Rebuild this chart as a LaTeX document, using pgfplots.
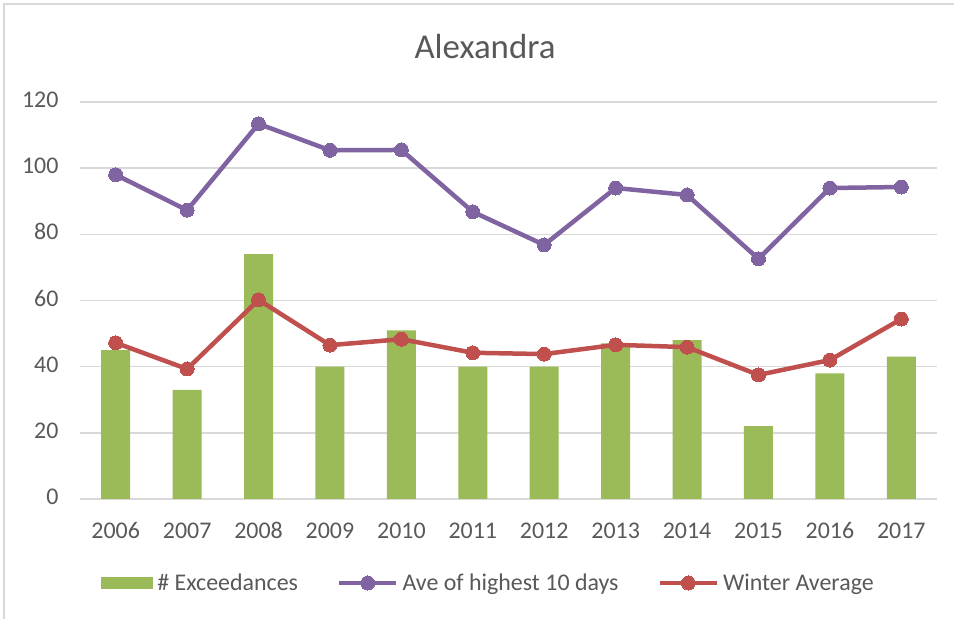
\documentclass[border=0pt]{standalone}
\usepackage{pgfplots}
\pgfplotsset{compat=1.18}
\usepackage{fontspec}
\setmainfont{Carlito}
\definecolor{txt}{HTML}{595959}
\definecolor{gridc}{HTML}{D9D9D9}
\definecolor{barg}{HTML}{9BBB59}
\definecolor{purp}{HTML}{8064A2}
\definecolor{redc}{HTML}{C0504D}
\begin{document}
\begin{tikzpicture}[x=1bp,y=1bp]
\useasboundingbox (0,0) rectangle (954,619);
\fill[white] (0,0) rectangle (954,619);
\draw[gridc, line width=2bp] (4,0) -- (4,615) -- (954,615);
\node[txt, font=\fontsize{35}{40}\selectfont, anchor=base] at (485,560) {Alexandra};
\begin{axis}[
  at={(80bp,120bp)}, anchor=south west,
  scale only axis, width=857bp, height=397bp,
  xmin=-0.5, xmax=11.5, ymin=0, ymax=120,
  ytick={0,20,...,120},
  xtick={0,...,11},
  xticklabels={2006,2007,2008,2009,2010,2011,2012,2013,2014,2015,2016,2017},
  axis line style={draw=none},
  axis x line*=bottom,
  major tick length=0pt,
  ymajorgrids, grid style={gridc, line width=1.5bp},
  tick label style={txt, font=\fontsize{24}{28}\selectfont},
  typeset ticklabels with strut,
  /pgf/number format/assume math mode=true,
  yticklabel style={xshift=-18bp},
  xticklabel style={yshift=-16.5bp},
  legend style={at={(0.4767,-0.2116)}, anchor=center, draw=none, fill=none,
    font=\fontsize{24}{28}\selectfont, text=txt, legend columns=3,
    nodes={inner xsep=2bp, inner ysep=2bp},
    /tikz/every odd column/.append style={column sep=2bp},
    /tikz/every even column/.append style={column sep=37bp}},
  legend image code/.code={\draw[#1, mark repeat=2, mark phase=2] plot coordinates {(0bp,0bp) (28.5bp,0bp) (57bp,0bp)};},
]
\addplot[ybar, bar width=29bp, fill=barg, draw=none, area legend,
  legend image code/.code={\fill[barg] (0bp,-6bp) rectangle (52bp,6bp);}]
  coordinates {(0,45) (1,33) (2,74) (3,40) (4,51) (5,40) (6,40) (7,47) (8,48) (9,22) (10,38) (11,43)};
\addlegendentry{\# Exceedances}
\addplot[purp, line width=4.5bp, mark=*, mark size=7bp, mark options={fill=purp, draw=purp, line width=0bp}]
  coordinates {(0,98) (1,87.3) (2,113.4) (3,105.4) (4,105.5) (5,86.8) (6,76.8) (7,94) (8,91.9) (9,72.6) (10,94) (11,94.3)};
\addlegendentry{Ave of highest 10 days}
\addplot[redc, line width=4.5bp, mark=*, mark size=7bp, mark options={fill=redc, draw=redc, line width=0bp}]
  coordinates {(0,47.2) (1,39.3) (2,60.2) (3,46.5) (4,48.3) (5,44.2) (6,43.8) (7,46.6) (8,45.9) (9,37.5) (10,42) (11,54.4)};
\addlegendentry{Winter Average}
\end{axis}
\end{tikzpicture}
\end{document}
